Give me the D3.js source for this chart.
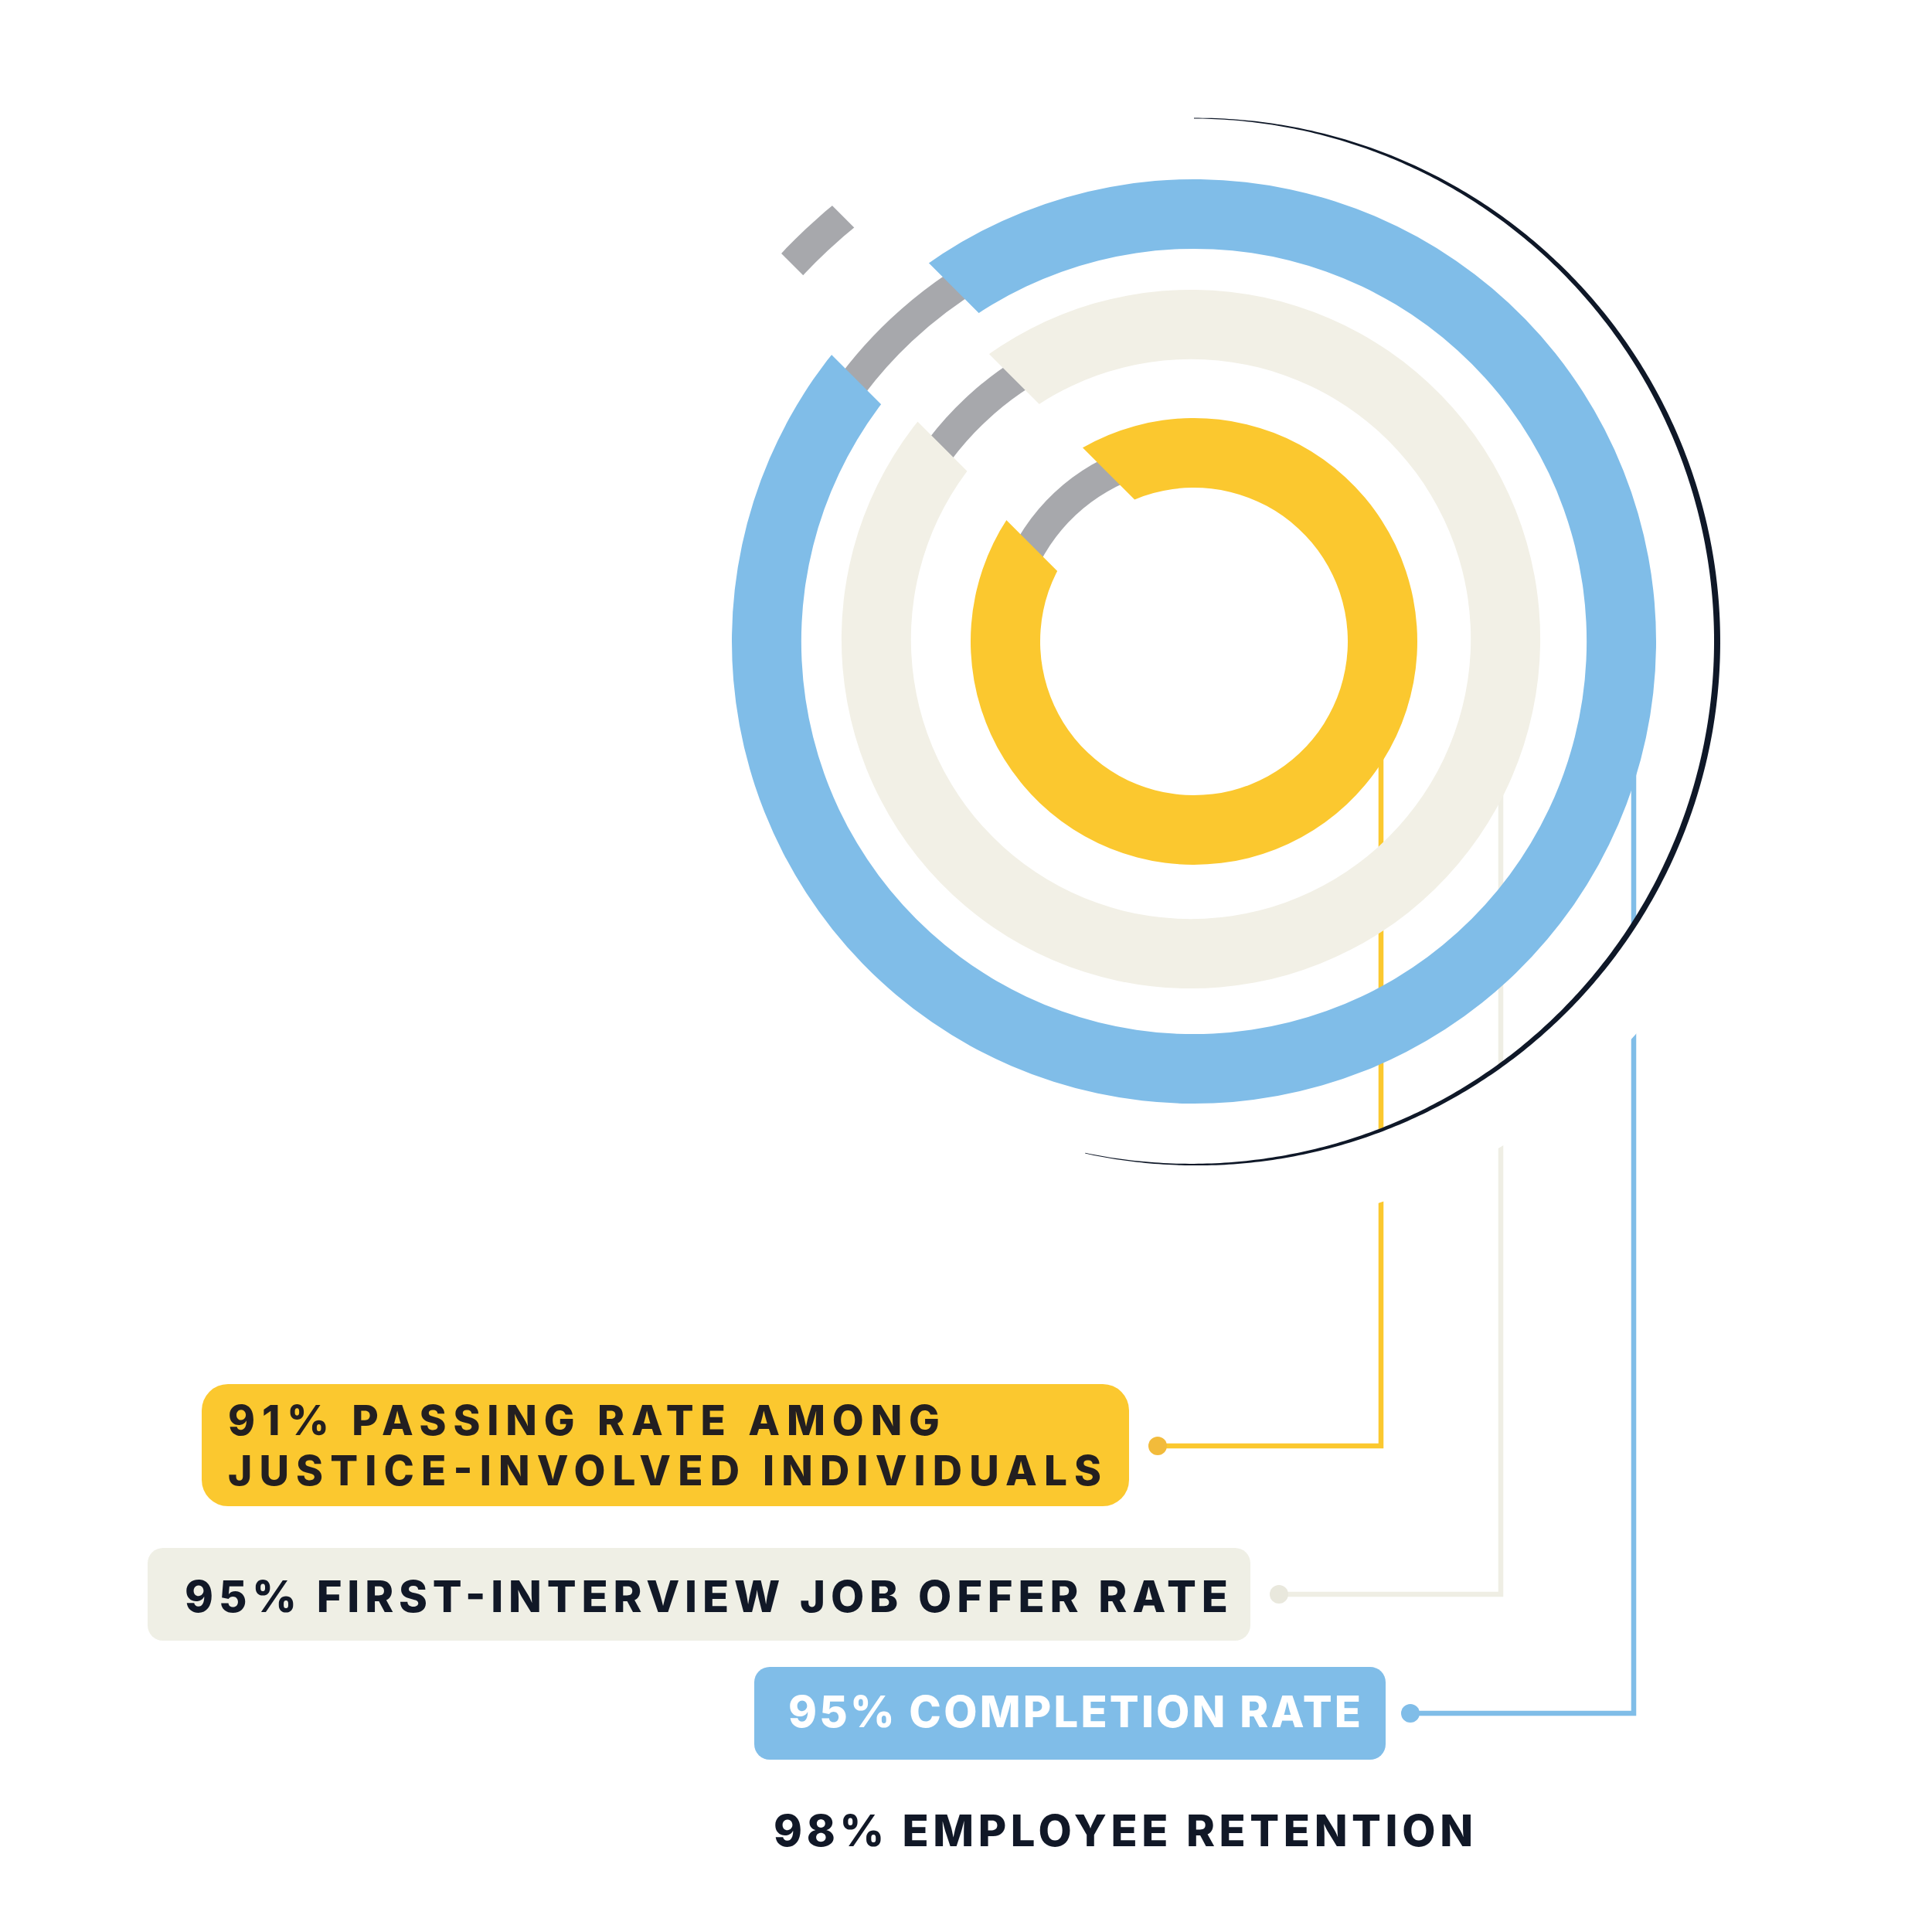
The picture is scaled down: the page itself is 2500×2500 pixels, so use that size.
<!DOCTYPE html>
<html>
<head>
<meta charset="utf-8">
<script src="https://cdn.jsdelivr.net/npm/d3@7"></script>
<style>
body { margin: 0; background: #fff; }
text { font-family: Inter, "Noto Sans", sans-serif; font-weight: 800; }
</style>
</head>
<body>
<div id="chart"></div>
<script>
// data
var metrics = ["passing", "offer", "completion", "retention"];
var values = [91, 95, 95, 98];
var labelLines = [
  ["91% PASSING RATE AMONG", "JUSTICE-INVOLVED INDIVIDUALS"],
  ["95% FIRST-INTERVIEW JOB OFFER RATE"],
  ["95% COMPLETION RATE"],
  ["98% EMPLOYEE RETENTION"]
];

// layout
var width = 2500, height = 2500;
var cx = 1545, cy = 830;
var ringInner = [199, 362, 508, 675];
var ringShift = [[0, 0], [-4, -3], [0, 0], [0, 0]];
var grayShift = [0, 0, 0, -7];
var ringWidth = 90, grayWidth = 40;
var gapCenter = 316.8 * Math.PI / 180;
var pad = 10 * Math.PI / 180;
var ringFill = ["#FBC82F", "#F2F0E6", "#80BDE8", "#ffffff"];
var grayFill = "#A7A8AC";

var boxes = [
  {x: 261, y: 1791, w: 1200, h: 158, rx: 34, fill: "#FBC82F", ink: "#231F20", size: 53, tx: 295, base: [1857, 1922], len: [921, 1130], dot: [1498, 1871], lineX: 1787, line: "#FBC82F", dotFill: "#F2BB3B"},
  {x: 191, y: 2003, w: 1427, h: 120, rx: 20, fill: "#EFEFE5", ink: "#111827", size: 56, tx: 239, base: [2086], len: [1350], dot: [1655, 2063], lineX: 1942, line: "#EFEEE4", dotFill: "#E9E8DD"},
  {x: 976, y: 2157, w: 817, h: 120, rx: 20, fill: "#80BDE8", ink: "#ffffff", size: 56, tx: 1020, base: [2235], len: [741], dot: [1825, 2217], lineX: 2114, line: "#80BDE8", dotFill: "#80BDE8"},
  {fill: "none", ink: "#111827", size: 56, tx: 1001, base: [2389], len: [905]}
];

var angle = d3.scaleLinear().domain([0, 100]).range([0, 2 * Math.PI]);

var svg = d3.select("#chart").append("svg")
  .attr("width", width)
  .attr("height", height)
  .style("background", "#fff");

var defs = svg.append("defs");

// connector lines + dots
var links = svg.append("g").attr("class", "links");
boxes.forEach(function(b, i) {
  if (!b.dot) return;
  links.append("path")
    .attr("d", "M" + b.dot[0] + "," + b.dot[1] + "H" + b.lineX + "V" + cy)
    .attr("fill", "none")
    .attr("stroke", b.line)
    .attr("stroke-width", 6.5)
    .attr("stroke-linejoin", "miter");
  links.append("circle")
    .attr("cx", b.dot[0]).attr("cy", b.dot[1]).attr("r", 12)
    .attr("fill", b.dotFill);
});

var rings = svg.append("g").attr("transform", "translate(" + cx + "," + cy + ")");

// everything outside the slanted gap strip
function cutPath(v, rMid) {
  var g = angle(100 - v);
  var a0 = gapCenter - g / 2, a1 = gapCenter + g / 2;
  function s(a) {
    var x = rMid * Math.sin(a), y = -rMid * Math.cos(a);
    return (x - y) / Math.SQRT2;
  }
  var sA = s(a0), sB = s(a1), R = 1500;
  var n = [Math.SQRT1_2, -Math.SQRT1_2], d = [Math.SQRT1_2, Math.SQRT1_2];
  var quad = [[sA, 0], [sA, -R], [sB, -R], [sB, 0]].map(function(p) {
    return [p[0] * n[0] + p[1] * d[0], p[0] * n[1] + p[1] * d[1]];
  });
  return "M-2600,-2600H2600V2600H-2600Z M" + quad.join("L") + "Z";
}

values.forEach(function(v, i) {
  var r0 = ringInner[i], rMid = r0 + ringWidth / 2;
  var g = angle(100 - v);
  var a0 = gapCenter - g / 2, a1 = gapCenter + g / 2;
  var ring = rings.append("g")
    .attr("transform", "translate(" + ringShift[i][0] + "," + ringShift[i][1] + ")");

  // remainder (grey)
  var rg = rMid + grayShift[i];
  ring.append("path")
    .attr("d", d3.arc()({innerRadius: rg - grayWidth / 2, outerRadius: rg + grayWidth / 2,
      startAngle: a0 - pad, endAngle: a1 + pad}))
    .attr("fill", grayFill);

  defs.append("clipPath").attr("id", "cut-" + metrics[i])
    .append("path")
    .attr("d", cutPath(v, rMid))
    .attr("clip-rule", "evenodd");

  ring.append("path")
    .attr("d", d3.arc()({innerRadius: r0, outerRadius: r0 + ringWidth,
      startAngle: a1 - pad, endAngle: a0 + 2 * Math.PI + pad}))
    .attr("fill", ringFill[i])
    .attr("clip-path", "url(#cut-" + metrics[i] + ")");
});

// thin dark arc
var blackEnd = 192 * Math.PI / 180;
var crescent = d3.areaRadial()
  .angle(function(a) { return a; })
  .innerRadius(function(a) { return 677 - 0.4 - 3.6 * Math.sin(Math.PI * a / blackEnd); })
  .outerRadius(function(a) { return 677 + 0.4 + 3.6 * Math.sin(Math.PI * a / blackEnd); });
rings.append("path")
  .datum(d3.range(0, 401).map(function(k) { return k / 400 * blackEnd; }))
  .attr("d", crescent)
  .attr("fill", "#0F1828");

// labels
var labels = svg.append("g").attr("class", "labels");
boxes.forEach(function(b, i) {
  if (b.fill !== "none") {
    labels.append("rect")
      .attr("x", b.x).attr("y", b.y).attr("width", b.w).attr("height", b.h)
      .attr("rx", b.rx).attr("fill", b.fill);
  }
  labelLines[i].forEach(function(t, j) {
    labels.append("text")
      .attr("x", b.tx).attr("y", b.base[j])
      .attr("font-size", b.size)
      .attr("fill", b.ink)
      .attr("textLength", b.len[j])
      .attr("lengthAdjust", "spacing")
      .text(t);
  });
});
</script>
</body>
</html>
